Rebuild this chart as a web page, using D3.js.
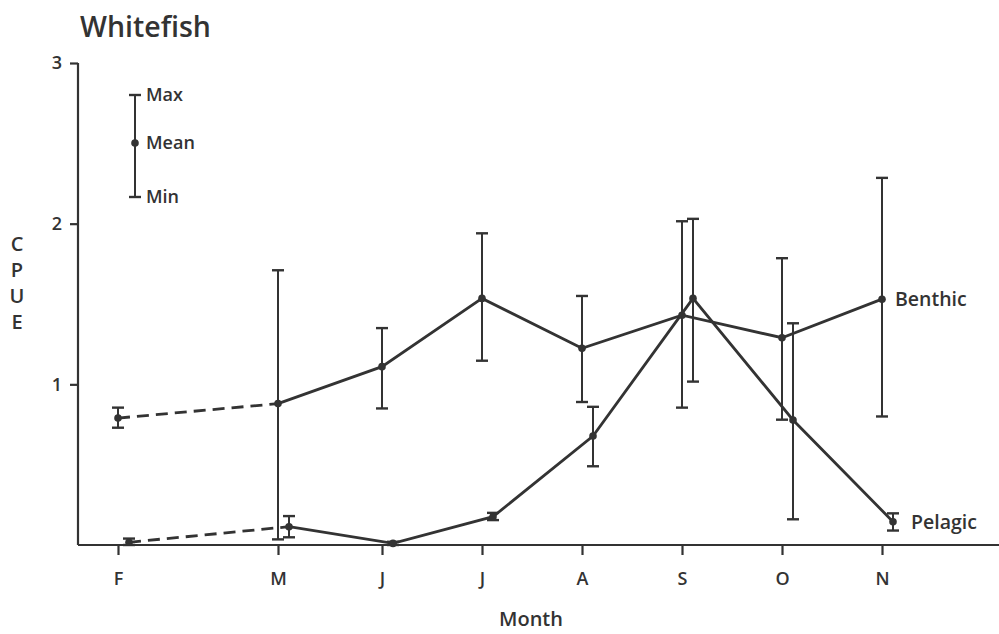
<!DOCTYPE html>
<html><head><meta charset="utf-8">
<script src="https://cdn.jsdelivr.net/npm/d3@7"></script>
<style>body{margin:0;background:#fff}text{font-family:"Open Sans","Noto Sans",sans-serif;fill:#333}</style>
</head><body><svg id="c" width="999" height="634"></svg>
<script>
const months = ["F","M","J","J","A","S","O","N"];
const monthPos = [0, 1.6, 2.64, 3.64, 4.64, 5.64, 6.64, 7.64];
const benthicMean = [0.79, 0.88, 1.11, 1.535, 1.224, 1.43, 1.29, 1.53];
const benthicMax  = [0.855, 1.71, 1.35, 1.94, 1.55, 2.015, 1.785, 2.285];
const benthicMin  = [0.73, 0.035, 0.85, 1.147, 0.89, 0.855, 0.78, 0.80];
const pelagicMean = [0.017, 0.114, 0.01, 0.176, 0.678, 1.535, 0.778, 0.145];
const pelagicMax  = [0.04, 0.18, 0.02, 0.20, 0.86, 2.03, 1.38, 0.197];
const pelagicMin  = [0.0, 0.048, 0.0, 0.155, 0.49, 1.017, 0.16, 0.09];
const yTicks = [1, 2, 3];

const svg = d3.select("#c");
const col = "#333";
const x = d3.scaleLinear().domain([0, 1]).range([118, 218]);
const y = d3.scaleLinear().domain([0, 3]).range([545, 63]);

// axes
const xAxis = d3.axisBottom(x).tickValues(monthPos).tickFormat((d,i)=>months[i]).tickSize(10).tickPadding(17);
const gx = svg.append("g").attr("transform","translate(0,545)").call(xAxis).attr("font-size",null).attr("font-family",null);
gx.select(".domain").remove();
gx.append("line").attr("x1",78).attr("x2",999).attr("stroke",col).attr("stroke-width",2.2);
gx.selectAll(".tick line").attr("stroke",col).attr("stroke-width",2.2);
gx.selectAll(".tick text").style("font-size","18px").style("font-weight","600").attr("fill",col);

const yAxis = d3.axisLeft(y).tickValues(yTicks).tickFormat(d3.format("d")).tickSize(8).tickPadding(8);
const gy = svg.append("g").attr("transform","translate(78,0)").call(yAxis).attr("font-size",null).attr("font-family",null);
gy.select(".domain").remove();
gy.append("line").attr("y1",y(3)).attr("y2",y(0)).attr("stroke",col).attr("stroke-width",2.2);
gy.selectAll(".tick line").attr("stroke",col).attr("stroke-width",2.2);
gy.selectAll(".tick text").style("font-size","18px").style("font-weight","600").attr("fill",col);

// titles
svg.append("text").attr("x",80).attr("y",37).style("font-size","28.5px").style("font-weight","600").text("Whitefish");
svg.append("text").attr("x",531).attr("y",626).attr("text-anchor","middle").style("font-size","20px").style("font-weight","600").text("Month");
"CPUE".split("").forEach((ch,i)=>{
  svg.append("text").attr("x",17).attr("y",251+i*26).attr("text-anchor","middle").style("font-size","20px").style("font-weight","600").text(ch);
});

function drawSeries(mean, mx, mn, off){
  const pts = mean.map((v,i)=>({px:x(monthPos[i])+off, v, hi:mx[i], lo:mn[i]}));
  const line = d3.line().x(d=>d.px).y(d=>y(d.v));
  svg.append("path").attr("d",line(pts.slice(0,2))).attr("fill","none").attr("stroke",col)
     .attr("stroke-width",2.8).attr("stroke-dasharray","12,7");
  svg.append("path").attr("d",line(pts.slice(1))).attr("fill","none").attr("stroke",col).attr("stroke-width",2.8);
  const g = svg.append("g");
  pts.forEach(d=>{
    g.append("line").attr("x1",d.px).attr("x2",d.px).attr("y1",y(d.hi)).attr("y2",y(d.lo)).attr("stroke",col).attr("stroke-width",2);
    [d.hi,d.lo].forEach(v=>g.append("line").attr("x1",d.px-6).attr("x2",d.px+6).attr("y1",y(v)).attr("y2",y(v)).attr("stroke",col).attr("stroke-width",2.4));
    g.append("circle").attr("cx",d.px).attr("cy",y(d.v)).attr("r",3.8).attr("fill",col);
  });
  return pts;
}
const bp = drawSeries(benthicMean, benthicMax, benthicMin, 0);
const pp = drawSeries(pelagicMean, pelagicMax, pelagicMin, 11);
svg.append("text").attr("x",bp[7].px+13).attr("y",y(benthicMean[7])+7).style("font-size","19.5px").style("font-weight","600").text("Benthic");
svg.append("text").attr("x",pp[7].px+18).attr("y",y(pelagicMean[7])+7).style("font-size","19.5px").style("font-weight","600").text("Pelagic");

// legend
const lx = 135, lyMax = 95, lyMean = 143, lyMin = 197;
const lg = svg.append("g");
lg.append("line").attr("x1",lx).attr("x2",lx).attr("y1",lyMax).attr("y2",lyMin).attr("stroke",col).attr("stroke-width",2);
[lyMax,lyMin].forEach(v=>lg.append("line").attr("x1",lx-6).attr("x2",lx+6).attr("y1",v).attr("y2",v).attr("stroke",col).attr("stroke-width",2.4));
lg.append("circle").attr("cx",lx).attr("cy",lyMean).attr("r",3.8).attr("fill",col);
[["Max",lyMax],["Mean",lyMean],["Min",lyMin]].forEach(([t,v])=>
  lg.append("text").attr("x",lx+11).attr("y",v+6).style("font-size","18px").style("font-weight","600").text(t));
</script></body></html>
